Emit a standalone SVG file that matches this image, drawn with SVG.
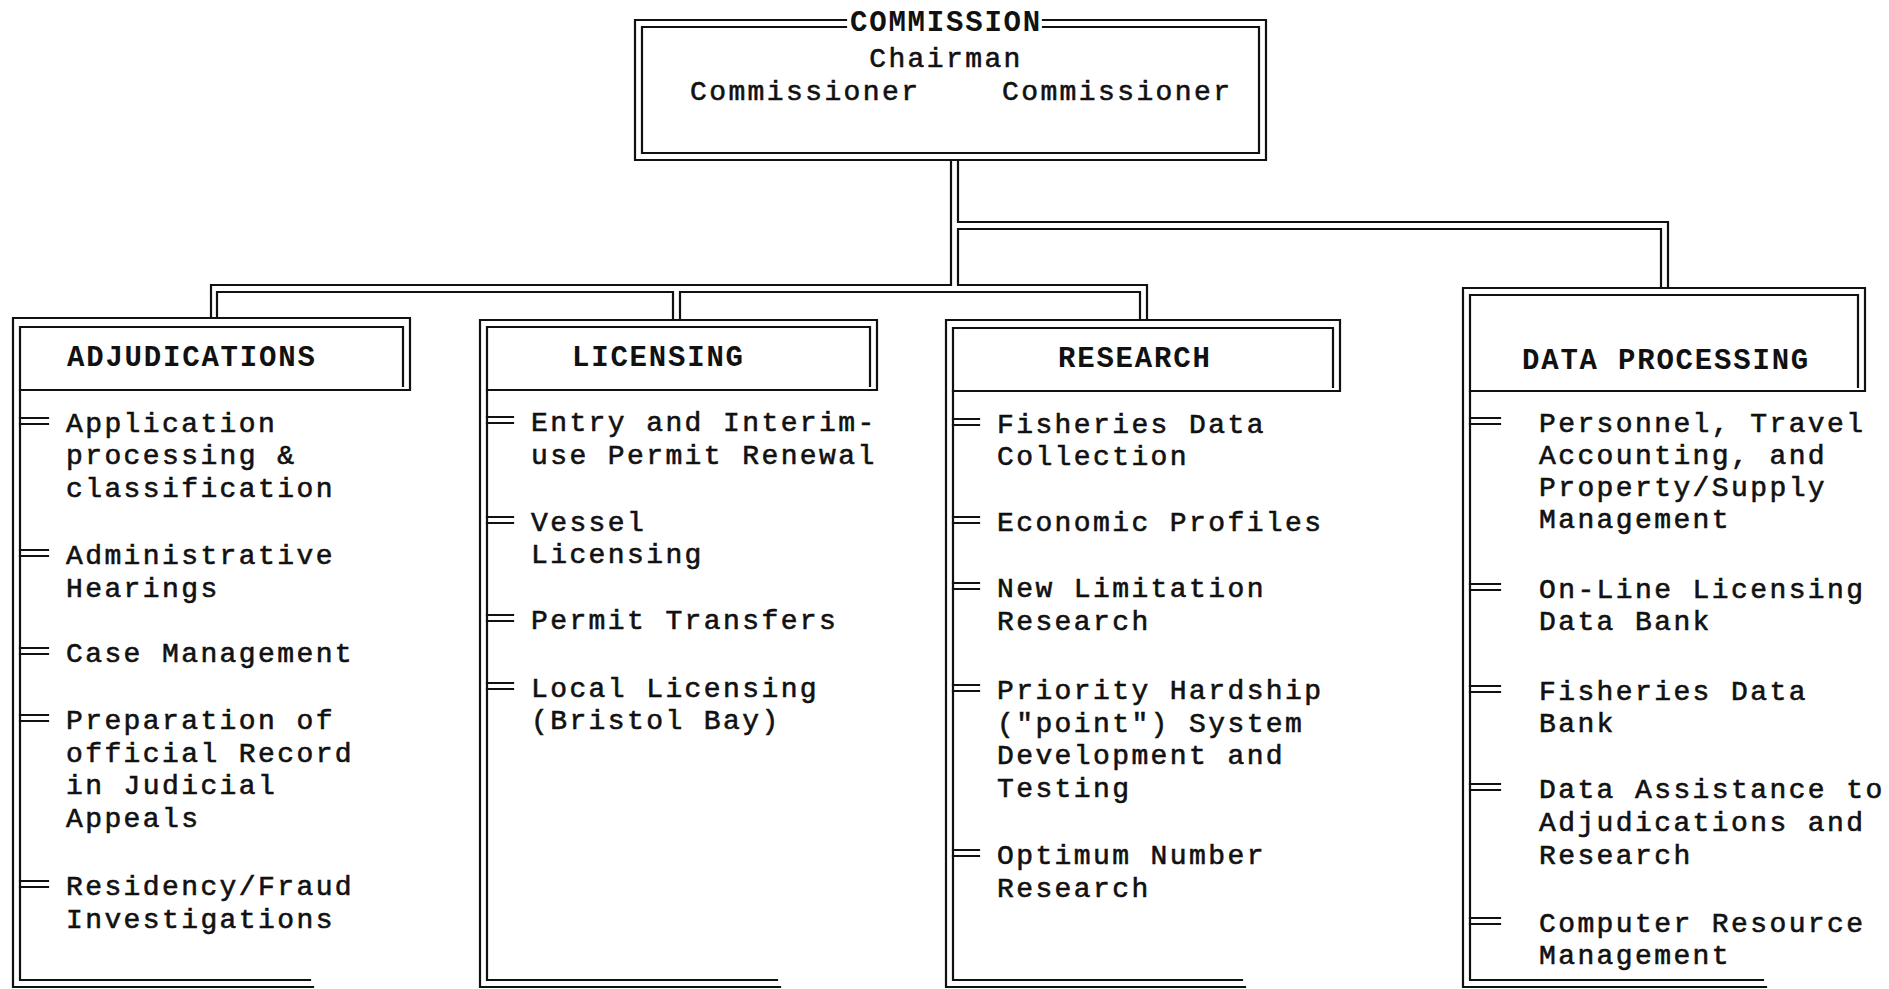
<svg xmlns="http://www.w3.org/2000/svg" width="1889" height="989" viewBox="0 0 1889 989">
<style>
.ln{fill:none;stroke:#111;stroke-width:2.2;stroke-linecap:square}
.t{font-family:"Liberation Mono","DejaVu Sans Mono",monospace;font-size:28px;letter-spacing:2.4px;fill:#111;stroke:#111;stroke-width:0.6}
.h{font-family:"Liberation Mono","DejaVu Sans Mono",monospace;font-size:29px;letter-spacing:1.8px;font-weight:bold;fill:#111}
</style>
<rect width="1889" height="989" fill="#fff"/>
<g id="connectors" class="ln">
<path d="M951,160 V285 H211 V318"/>
<path d="M958,160 V222 H1668 V288"/>
<path d="M1661,288 V229 H958 V285 H1147 V320"/>
<path d="M217,318 V292 H673 V320"/>
<path d="M680,320 V292 H1140 V320"/>
</g>
<g id="commission">
<path class="ln" d="M846,20 H635 V160 H1266 V20 H1043"/>
<path class="ln" d="M846,27 H642 V153 H1259 V27 H1043"/>
<text class="h" x="946" y="31" text-anchor="middle">COMMISSION</text>
<text class="t" x="946" y="67" text-anchor="middle">Chairman</text>
<text class="t" x="690" y="100">Commissioner</text>
<text class="t" x="1002" y="100">Commissioner</text>
</g>
<g id="adjudications">
<path class="ln" d="M313,987 H13 V318 H410 V390 H20"/>
<path class="ln" d="M310,980 H20 V327 H403 V386"/>
<path class="ln" d="M20,418 H48 M20,424 H48 M20,550 H48 M20,556 H48 M20,648 H48 M20,654 H48 M20,715 H48 M20,721 H48 M20,881 H48 M20,887 H48"/>
<text class="h" x="67" y="366">ADJUDICATIONS</text>
<text class="t" x="66" y="432">Application</text>
<text class="t" x="66" y="464">processing &amp;</text>
<text class="t" x="66" y="497">classification</text>
<text class="t" x="66" y="564">Administrative</text>
<text class="t" x="66" y="597">Hearings</text>
<text class="t" x="66" y="662">Case Management</text>
<text class="t" x="66" y="729">Preparation of</text>
<text class="t" x="66" y="762">official Record</text>
<text class="t" x="66" y="794">in Judicial</text>
<text class="t" x="66" y="827">Appeals</text>
<text class="t" x="66" y="895">Residency/Fraud</text>
<text class="t" x="66" y="928">Investigations</text>
</g>
<g id="licensing">
<path class="ln" d="M780,987 H480 V320 H877 V390 H487"/>
<path class="ln" d="M777,980 H487 V327 H870 V386"/>
<path class="ln" d="M487,417 H513 M487,423 H513 M487,517 H513 M487,523 H513 M487,615 H513 M487,621 H513 M487,683 H513 M487,689 H513"/>
<text class="h" x="572" y="366">LICENSING</text>
<text class="t" x="531" y="431">Entry and Interim-</text>
<text class="t" x="531" y="464">use Permit Renewal</text>
<text class="t" x="531" y="531">Vessel</text>
<text class="t" x="531" y="563">Licensing</text>
<text class="t" x="531" y="629">Permit Transfers</text>
<text class="t" x="531" y="697">Local Licensing</text>
<text class="t" x="531" y="729">(Bristol Bay)</text>
</g>
<g id="research">
<path class="ln" d="M1245,987 H946 V320 H1340 V391 H953"/>
<path class="ln" d="M1242,980 H953 V328 H1333 V387"/>
<path class="ln" d="M953,419 H979 M953,425 H979 M953,517 H979 M953,523 H979 M953,583 H979 M953,589 H979 M953,685 H979 M953,691 H979 M953,850 H979 M953,856 H979"/>
<text class="h" x="1058" y="367">RESEARCH</text>
<text class="t" x="997" y="433">Fisheries Data</text>
<text class="t" x="997" y="465">Collection</text>
<text class="t" x="997" y="531">Economic Profiles</text>
<text class="t" x="997" y="597">New Limitation</text>
<text class="t" x="997" y="630">Research</text>
<text class="t" x="997" y="699">Priority Hardship</text>
<text class="t" x="997" y="732">("point") System</text>
<text class="t" x="997" y="764">Development and</text>
<text class="t" x="997" y="797">Testing</text>
<text class="t" x="997" y="864">Optimum Number</text>
<text class="t" x="997" y="897">Research</text>
</g>
<g id="data-processing">
<path class="ln" d="M1766,987 H1463 V288 H1865 V391 H1470"/>
<path class="ln" d="M1763,980 H1470 V295 H1858 V387"/>
<path class="ln" d="M1470,418 H1500 M1470,424 H1500 M1470,584 H1500 M1470,590 H1500 M1470,686 H1500 M1470,692 H1500 M1470,784 H1500 M1470,790 H1500 M1470,918 H1500 M1470,924 H1500"/>
<text class="h" x="1522" y="369">DATA PROCESSING</text>
<text class="t" x="1539" y="432">Personnel, Travel</text>
<text class="t" x="1539" y="464">Accounting, and</text>
<text class="t" x="1539" y="496">Property/Supply</text>
<text class="t" x="1539" y="528">Management</text>
<text class="t" x="1539" y="598">On-Line Licensing</text>
<text class="t" x="1539" y="630">Data Bank</text>
<text class="t" x="1539" y="700">Fisheries Data</text>
<text class="t" x="1539" y="732">Bank</text>
<text class="t" x="1539" y="798">Data Assistance to</text>
<text class="t" x="1539" y="831">Adjudications and</text>
<text class="t" x="1539" y="864">Research</text>
<text class="t" x="1539" y="932">Computer Resource</text>
<text class="t" x="1539" y="964">Management</text>
</g>
</svg>
